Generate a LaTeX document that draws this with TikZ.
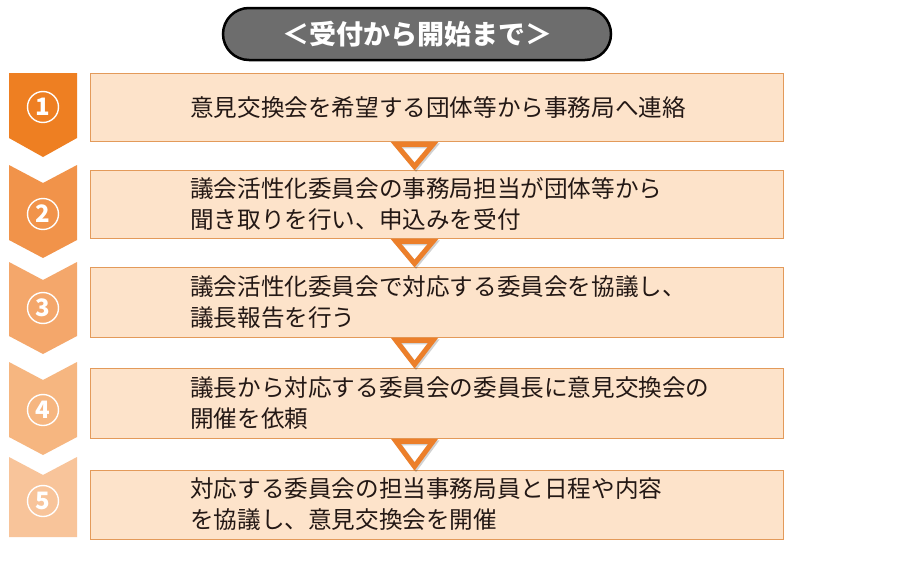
\documentclass[tikz,border=0pt]{standalone}
\usepackage{fontspec}
\setmainfont{Noto Sans CJK JP}
\usetikzlibrary{calc}
\definecolor{c1}{HTML}{EE7F22}
\definecolor{c2}{HTML}{F1934A}
\definecolor{c3}{HTML}{F4A76B}
\definecolor{c4}{HTML}{F6B680}
\definecolor{c5}{HTML}{F8C49A}
\definecolor{boxfill}{HTML}{FDE3CA}
\definecolor{boxline}{HTML}{E39A5A}
\definecolor{tri}{HTML}{EC7F2A}
\definecolor{pillgray}{HTML}{6D6D6D}
\definecolor{txt}{HTML}{231815}
\begin{document}
\begin{tikzpicture}[x=1pt,y=-1pt,
  stepbox/.style={draw=boxline, fill=boxfill, line width=1.4pt, minimum width=693pt, anchor=north west, inner sep=0pt},
  steptext/.style={anchor=west, align=left, text=txt, inner sep=0pt, font=\fontsize{23.6}{31}\selectfont},
  num/.style={circle, draw=white, line width=1.4pt, minimum size=31pt, inner sep=0pt, text=white, font=\bfseries\fontsize{24}{24}\selectfont},
  tri/.style={draw=tri, line width=5pt, line join=miter},
  trishadow/.style={draw=black, opacity=0.18, line width=5pt, line join=miter},
  pill/.style={draw=black, fill=pillgray, line width=2.5pt, rounded corners=26pt, minimum width=388pt, minimum height=52pt, text=white, font=\bfseries\fontsize{27}{27}\selectfont}
]
\useasboundingbox (0,0) rectangle (913,562);
\fill[white] (0,0) rectangle (913,562);

% title
\node[pill] (title) at (417,34) {＜受付から開始まで＞};

% chevrons
\fill[c1] (9,73)--(77,73)--(77,138)--(43,157)--(9,138)--cycle;
\fill[c2] (9,165)--(43,183)--(77,165)--(77,240)--(43,258)--(9,240)--cycle;
\fill[c3] (9,262)--(43,280)--(77,262)--(77,336)--(43,354)--(9,336)--cycle;
\fill[c4] (9,362)--(43,380)--(77,362)--(77,437)--(43,455)--(9,437)--cycle;
\fill[c5] (9,457)--(43,475)--(77,457)--(77,537)--(9,537)--cycle;

\node[num] (n1) at (43,107) {1};
\node[num] (n2) at (43,214) {2};
\node[num] (n3) at (43,308) {3};
\node[num] (n4) at (43,410) {4};
\node[num] (n5) at (43,501) {5};

% boxes
\node[stepbox, minimum height=68pt] (box1) at (90,73) {};
\node[stepbox, minimum height=68pt] (box2) at (90,170) {};
\node[stepbox, minimum height=70pt] (box3) at (90,267) {};
\node[stepbox, minimum height=70pt] (box4) at (90,368) {};
\node[stepbox, minimum height=69pt] (box5) at (90,470) {};

\node[steptext] (t1) at ($(box1.west)+(100,0)$) {意見交換会を希望する団体等から事務局へ連絡};
\node[steptext] (t2) at ($(box2.west)+(100,-1)$) {議会活性化委員会の事務局担当が団体等から\\聞き取りを行い、申込みを受付};
\node[steptext] (t3) at ($(box3.west)+(100,-1)$) {議会活性化委員会で対応する委員会を協議し、\\議長報告を行う};
\node[steptext] (t4) at ($(box4.west)+(100,-1)$) {議長から対応する委員会の委員長に意見交換会の\\開催を依頼};
\node[steptext] (t5) at ($(box5.west)+(100,-1)$) {対応する委員会の担当事務局員と日程や内容\\を協議し、意見交換会を開催};

% triangles between boxes
\foreach \a/\b in {box1/box2, box2/box3, box3/box4, box4/box5}{
  \path[trishadow] ($(\a.south west)+(307.5,3.5)$) -- ($(\a.south west)+(344.5,3.5)$) -- ($(\b.north west)+(326,-2)$) -- cycle;
  \path[tri] ($(\a.south west)+(306,2)$) -- ($(\a.south west)+(343,2)$) -- ($(\b.north west)+(324.5,-3.5)$) -- cycle;
}
\end{tikzpicture}
\end{document}
